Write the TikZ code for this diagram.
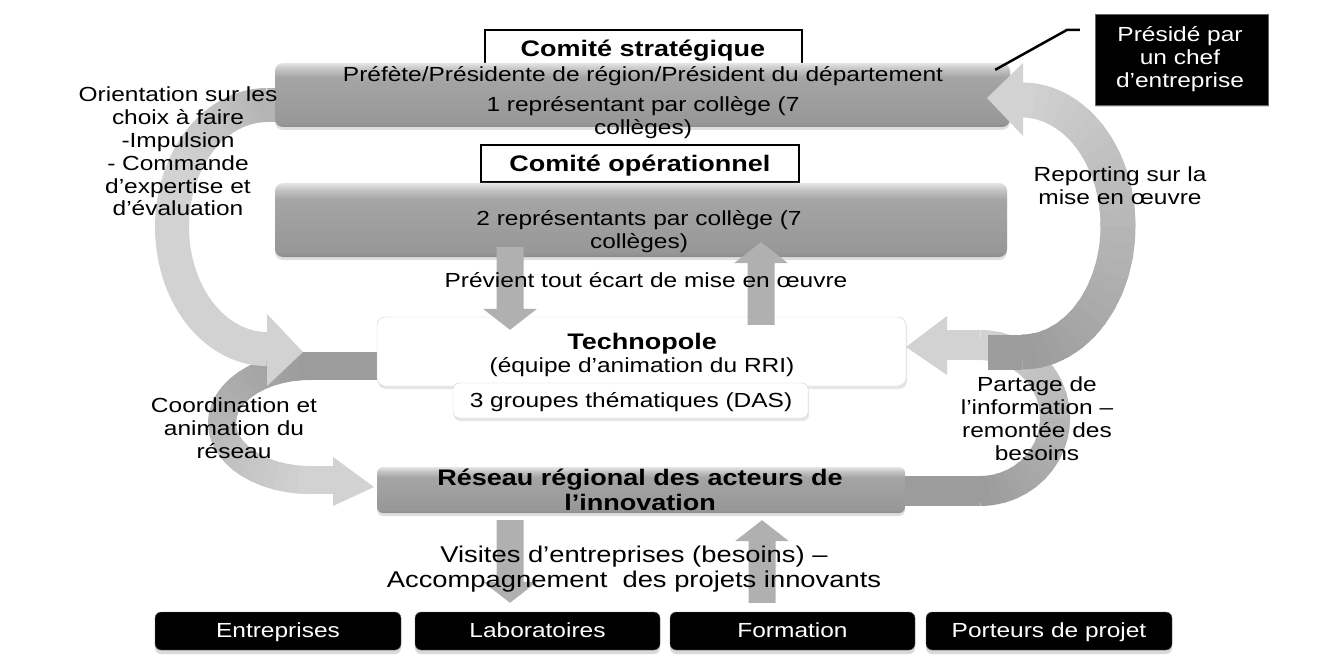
\documentclass[tikz,border=0pt]{standalone}
\usepackage{fontspec}
\setmainfont{Liberation Sans}[FakeStretch=1.2]
\usetikzlibrary{calc,shadows}
\definecolor{darkg}{HTML}{9C9C9C}
\definecolor{midg}{HTML}{B4B4B4}
\definecolor{lightg}{HTML}{D2D2D2}
\definecolor{arrowg}{HTML}{B0B0B0}
\definecolor{barbot}{HTML}{8C8C8C}
\definecolor{barlow}{HTML}{979797}
\definecolor{barmid}{HTML}{A5A5A5}
\definecolor{barhi}{HTML}{C8C8C8}
\definecolor{bartop}{HTML}{E6E6E6}
\pgfdeclareverticalshading{greybar}{100bp}{color(0bp)=(barbot); color(25bp)=(barbot); color(28bp)=(barlow); color(64bp)=(barmid); color(71bp)=(barhi); color(75bp)=(bartop); color(100bp)=(bartop)}
\newcommand\mytxt{\fontsize{20.4}{23}\selectfont}
\newcommand\mybig{\fontsize{22.8}{25}\selectfont}
\newcommand\mybold{\fontsize{22.5}{25}\selectfont\bfseries}
% gradient elliptical arc: cx cy rx ry a0 a1 width colfrom colto
\newcommand\garc[9]{%
 \foreach \k in {0,...,23}{%
  \pgfmathsetmacro\ta{#5+(#6-#5)*\k/24}%
  \pgfmathsetmacro\tb{#5+(#6-#5)*min(\k+1.3,24)/24}%
  \pgfmathtruncatemacro\cc{100*\k/23}%
  \draw[line width=#7pt, draw=#9!\cc!#8] ({#1+#3*cos(\ta)},{-#2+#4*sin(\ta)}) arc[start angle=\ta, end angle=\tb, x radius=#3pt, y radius=#4pt];
 }}
% vertical block arrow from #1 to tip #2
\newcommand\blockarrow[2]{%
 \fill[arrowg] let \p1=(#1), \p2=(#2), \n1={sign(\y2-\y1)} in
  (\x1-13.5pt,\y1) -- (\x1-13.5pt,\y2-\n1*21pt) -- (\x1-27pt,\y2-\n1*21pt) -- (\x1,\y2)
  -- (\x1+27pt,\y2-\n1*21pt) -- (\x1+13.5pt,\y2-\n1*21pt) -- (\x1+13.5pt,\y1) -- cycle;}
\begin{document}
\begin{tikzpicture}[x=1pt,y=1pt,
  titlebox/.style={draw=black, line width=1.4pt, fill=white, inner sep=0pt},
  greybar/.style={rounded corners=8pt, shading=greybar, inner sep=0pt,
     drop shadow={shadow xshift=0pt, shadow yshift=-3pt, opacity=0.25}},
  whitebox/.style={fill=white, draw=black!18, rounded corners=8pt, inner sep=0pt,
     drop shadow={shadow xshift=1pt, shadow yshift=-3pt, opacity=0.2}},
  blackbox/.style={fill=black, draw=black!55, rounded corners=6pt, inner sep=0pt,
     minimum height=38pt, minimum width=245pt,
     drop shadow={shadow xshift=0pt, shadow yshift=-4pt, opacity=0.3}},
  txt/.style={font=\mytxt, align=center, inner sep=0pt, anchor=base},
  btxt/.style={font=\mybold, align=center, inner sep=0pt, anchor=base},
  wtxt/.style={font=\mytxt, align=center, inner sep=0pt, anchor=base, text=white},
  callout/.style={draw=black, line width=2.5pt}
]
\useasboundingbox (0,0) rectangle (1341,-671);

% title boxes
\node[titlebox, minimum width=317pt, minimum height=36pt] (stratbox) at (643.5,-48) {};
\node[titlebox, minimum width=318pt, minimum height=37pt] (opsbox) at (640,-163.5) {};

% curved arrows (behind the bars)
% Coordination et animation du reseau
\draw[line width=28pt, draw=darkg] (377,-366) -- (310,-366);
\garc{310}{423}{88}{57}{90}{270}{28}{darkg}{lightg}
\draw[line width=28pt, draw=lightg] (310,-480) -- (334,-480);
\fill[lightg] (333,-457) -- (374,-487) -- (333,-506) -- cycle;
% Orientation
\draw[line width=34pt, draw=midg] (300,-105) -- (267,-105);
\garc{267}{227}{95}{122}{90}{150}{34}{midg}{lightg}
\draw[line width=34pt, draw=lightg] ({267+95*cos(149)},{-227+122*sin(149)}) arc[start angle=149, end angle=270, x radius=95pt, y radius=122pt];
\fill[lightg] (267,-314) -- (303,-352) -- (267,-386) -- cycle;
% Partage
\draw[line width=30pt, draw=darkg] (905,-491) -- (980,-491);
\garc{980}{418}{75}{73}{-90}{90}{30}{darkg}{lightg}
\draw[line width=30pt, draw=lightg] (980,-345) -- (946,-345);
\fill[lightg] (947,-316) -- (906,-347) -- (947,-375) -- cycle;

% bars and boxes
\node[greybar, minimum width=735pt, minimum height=64pt] (strat) at (642.5,-95) {};
\node[greybar, minimum width=732pt, minimum height=74pt] (ops) at (641,-220) {};
\node[whitebox, minimum width=529pt, minimum height=69pt] (techno) at (641.5,-351.5) {};
\node[whitebox, minimum width=355pt, minimum height=35pt, rounded corners=6pt] (groupes) at (630.5,-400.5) {};
\node[greybar, minimum width=528pt, minimum height=46pt, rounded corners=6pt] (reseau) at (641,-490) {};

% Reporting arc (over the strategic bar)
\draw[line width=35pt, draw=darkg] (988,-352) -- (1022,-352);
\garc{1022}{226}{96}{126}{-90}{90}{35}{darkg}{lightg}
\fill[lightg] (1023,-63) -- (987,-98) -- (1023,-136) -- cycle;

% straight block arrows
\path (ops.south) ++(-131,10) coordinate (d1s);
\path (techno.north) ++(-131.5,-13) coordinate (d1e);
\path (techno.north) ++(119.5,-8) coordinate (u1s);
\path (ops.south) ++(120,15) coordinate (u1e);
\blockarrow{d1s}{d1e}
\blockarrow{u1s}{u1e}

% bottom boxes
\node[blackbox, minimum width=246pt] (ent) at (278,-631) {};
\node[blackbox] (lab) at (537.5,-631) {};
\node[blackbox] (form) at (792.5,-631) {};
\node[blackbox, minimum width=246pt] (port) at (1049,-631) {};

\path (reseau.south) ++(-131,-7) coordinate (d2s);
\path (lab.north) ++(-27.5,9) coordinate (d2e);
\path (form.north) ++(-30.5,9) coordinate (u2s);
\path (reseau.south) ++(121,-7) coordinate (u2e);
\blockarrow{d2s}{d2e}
\blockarrow{u2s}{u2e}

% preside box and callout
\node[fill=black, draw=black!60, minimum width=173pt, minimum height=91pt, inner sep=0pt,
  drop shadow={shadow xshift=1pt, shadow yshift=-2pt, opacity=0.3}] (presid) at (1181.5,-59.5) {};
\draw[callout] ($(strat.north east)+(-15,-7)$) -- ($(presid.west)+(-28,29.5)$) -- ($(presid.west)+(-15,29.5)$);

% texts (multi-line nodes: base = baseline of last line)
\node[btxt] (tstrat) at (643,-57) {Comité stratégique};
\node[txt] (tprefete) at (643,-82) {Préfète/Présidente de région/Président du département};
\node[txt] (trep1) at (643,-135) {1 représentant par collège (7\\collèges)};
\node[btxt] (tops) at (640,-172) {Comité opérationnel};
\node[txt] (trep2) at (639,-248) {2 représentants par collège (7\\collèges)};
\node[txt] (tprev) at (646,-287) {Prévient tout écart de mise en œuvre};
\node[txt] (ttechno) at (642,-372) {{\mybold Technopole}\\(équipe d’animation du RRI)};
\node[txt] (tgroupes) at (631,-407) {3 groupes thématiques (DAS)};
\node[btxt] (treseau) at (640,-510) {Réseau régional des acteurs de\\l’innovation};
\node[txt, font=\mybig] (tvisites) at (634,-587) {Visites d’entreprises (besoins) –\\Accompagnement\ \ des projets innovants};
\node[txt] (torient) at (178,-216) {Orientation sur les\\choix à faire\\-Impulsion\\- Commande\\d’expertise et\\d’évaluation};
\node[txt] (treport) at (1120,-205) {Reporting sur la\\mise en œuvre};
\node[txt] (tcoord) at (234,-458) {Coordination et\\animation du\\réseau};
\node[txt] (tpartage) at (1037,-460) {Partage de\\l’information –\\remontée des\\besoins};
\node[wtxt] (tpresid) at (1180,-88) {Présidé par\\un chef\\d’entreprise};
\node[wtxt] (tent) at (ent.center |- 0,-637) {Entreprises};
\node[wtxt] (tlab) at (lab.center |- 0,-637) {Laboratoires};
\node[wtxt] (tform) at (form.center |- 0,-637) {Formation};
\node[wtxt] (tport) at (port.center |- 0,-637) {Porteurs de projet};
\end{tikzpicture}
\end{document}
